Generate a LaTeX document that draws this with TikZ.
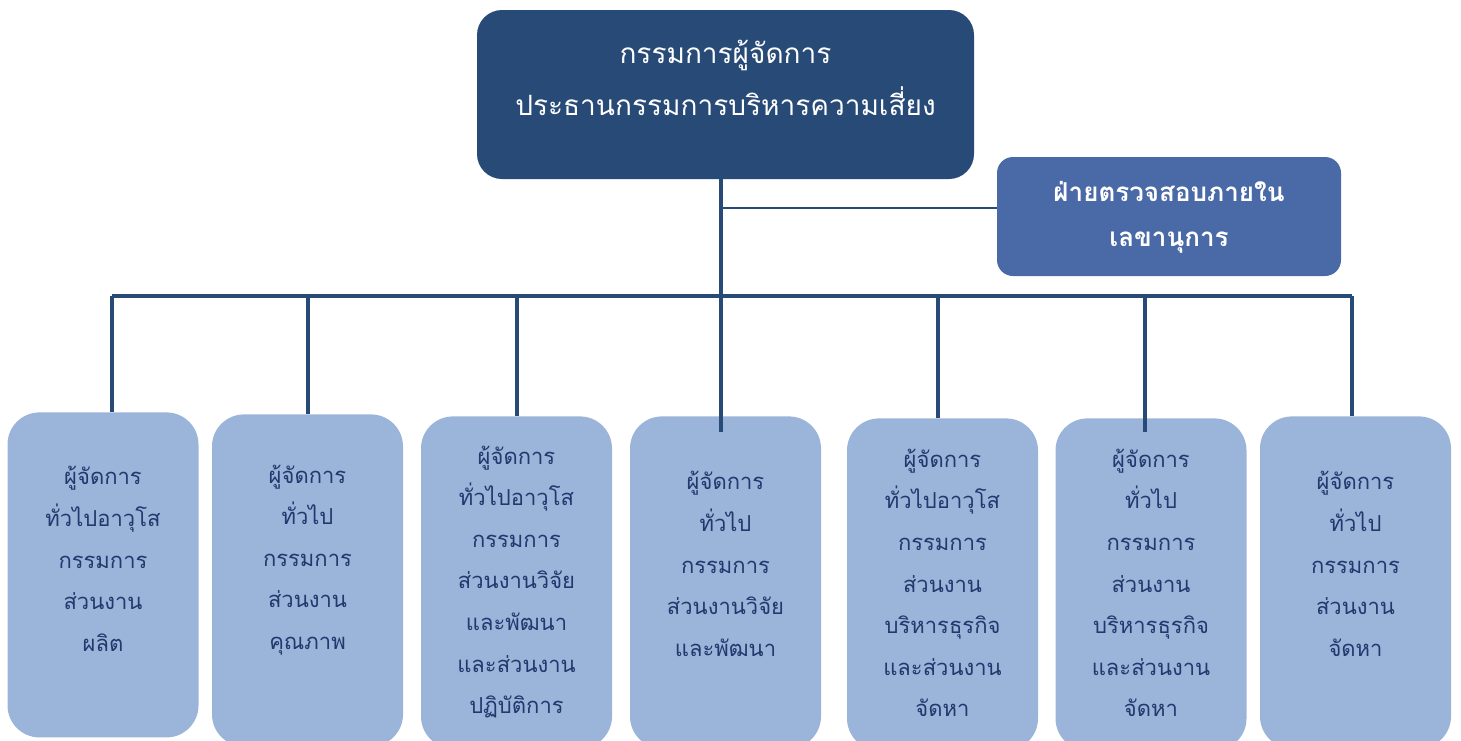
\documentclass[tikz,border=0pt]{standalone}
\usepackage{fontspec}
\newfontfamily\thaifont[Script=Thai]{Loma}
\definecolor{navy}{HTML}{284A77}
\definecolor{audit}{HTML}{4A69A7}
\definecolor{unit}{HTML}{9BB4D9}
\definecolor{ink}{HTML}{1E3A6E}

\begin{document}
\begin{tikzpicture}[
  x=.5pt,y=-.5pt,
  ceo/.style={fill=navy,rounded corners=12.5pt,minimum width=248.5pt,minimum height=84.5pt,inner sep=0pt},
  staff/.style={fill=audit,rounded corners=8pt,minimum width=172pt,minimum height=59.5pt,inner sep=0pt},
  dept/.style={fill=unit,rounded corners=16pt,minimum width=95.5pt,minimum height=166pt,inner sep=0pt,anchor=north},
  head/.style={text=white,align=center,font=\thaifont\fontsize{14}{26}\selectfont},
  staffname/.style={text=white,align=center,font=\thaifont\bfseries\fontsize{13}{22.5}\selectfont},
  deptname/.style={text=ink,align=center,font=\thaifont\fontsize{11}{20.8}\selectfont},
  trunk/.style={draw=navy,line width=2pt},
  branch/.style={draw=navy,line width=1pt}
]
\path[use as bounding box] (0,0) rectangle (1461,740);
\clip (0,0) rectangle (1461,740);

% top
\node[ceo] (md) at (725.5,94.5) {};
\node[head] (mdname) at (725.5,78) {กรรมการผู้จัดการ\\ประธานกรรมการบริหารความเสี่ยง};
\node[staff] (ia) at (1169,216.5) {};
\node[staffname] (ianame) at (1169,217) {ฝ่ายตรวจสอบภายใน\\เลขานุการ};
\coordinate (hub) at (721,296);
\coordinate (tap) at (721,208);
\draw[trunk] (md.south-|hub) -- ([yshift=-11pt]hub);
\draw[branch] (tap) -- (ia.west|-tap);

% departments
\node[dept,minimum height=162.5pt] (d1) at (103,412) {};
\node[dept] (d2) at (307.5,414) {};
\node[dept] (d3) at (516.5,416) {};
\node[dept] (d4) at (725.5,416) {};
\node[dept] (d5) at (942.5,418) {};
\node[dept] (d6) at (1151,418) {};
\node[dept] (d7) at (1355.5,416) {};

\node[deptname] (t1) at (103,559) {ผู้จัดการ\\ทั่วไปอาวุโส\\กรรมการ\\ส่วนงาน\\ผลิต};
\node[deptname] (t2) at (307.5,560) {ผู้จัดการ\\ทั่วไป\\กรรมการ\\ส่วนงาน\\คุณภาพ};
\node[deptname] (t3) at (516.5,582) {ผู้จัดการ\\ทั่วไปอาวุโส\\กรรมการ\\ส่วนงานวิจัย\\และพัฒนา\\และส่วนงาน\\ปฏิบัติการ};
\node[deptname] (t4) at (725.5,564) {ผู้จัดการ\\ทั่วไป\\กรรมการ\\ส่วนงานวิจัย\\และพัฒนา};
\node[deptname] (t5) at (942.5,583) {ผู้จัดการ\\ทั่วไปอาวุโส\\กรรมการ\\ส่วนงาน\\บริหารธุรกิจ\\และส่วนงาน\\จัดหา};
\node[deptname] (t6) at (1151,583) {ผู้จัดการ\\ทั่วไป\\กรรมการ\\ส่วนงาน\\บริหารธุรกิจ\\และส่วนงาน\\จัดหา};
\node[deptname] (t7) at (1355.5,564) {ผู้จัดการ\\ทั่วไป\\กรรมการ\\ส่วนงาน\\จัดหา};

\coordinate (j1) at (112,296);
\coordinate (j2) at (308,296);
\coordinate (j3) at (517,296);
\coordinate (j4) at (721,296);
\coordinate (j5) at (938,296);
\coordinate (j6) at (1145,296);
\coordinate (j7) at (1352,296);
\draw[trunk] (j1) -- (j7);
\draw[trunk] (j1) -- (j1|-d1.north);
\draw[trunk] (j2) -- (j2|-d2.north);
\draw[trunk] (j3) -- (j3|-d3.north);
\draw[trunk] (j4) -- ([yshift=-8pt]j4|-d4.north);
\draw[trunk] (j5) -- (j5|-d5.north);
\draw[trunk] (j6) -- ([yshift=-7pt]j6|-d6.north);
\draw[trunk] (j7) -- (j7|-d7.north);
\end{tikzpicture}
\end{document}
